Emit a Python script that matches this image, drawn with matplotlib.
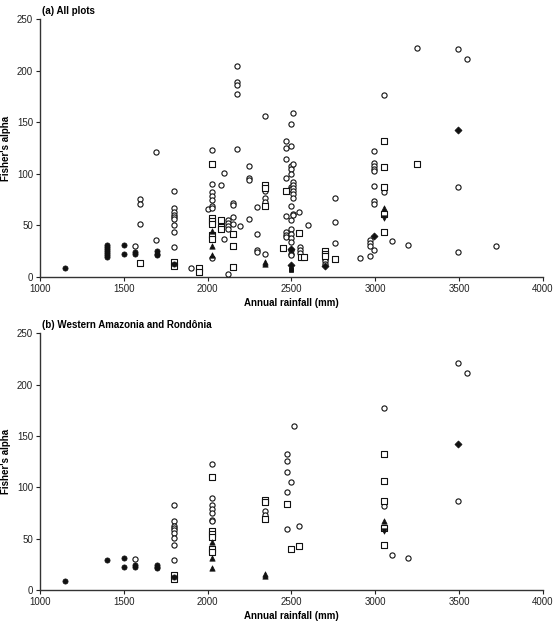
import matplotlib
matplotlib.use("Agg")
import matplotlib.pyplot as plt

plt.rcParams['font.family'] = ['Liberation Sans', 'DejaVu Sans']

# ---------------- Panel (a): all plots ----------------
a_open_circle_x = [1570, 1600, 1600, 1600, 1690, 1690,
                   1800, 1800, 1800, 1800, 1800, 1800, 1800, 1800, 1800,
                   1900, 2000,
                   2025, 2025, 2025, 2025, 2025, 2025, 2025, 2025,
                   2080, 2100, 2100, 2120, 2120, 2120, 2120, 2120,
                   2150, 2150, 2150, 2150,
                   2175, 2175, 2175, 2175, 2175, 2195,
                   2245, 2245, 2245, 2245,
                   2295, 2295, 2295, 2295,
                   2345, 2345, 2345, 2345, 2345,
                   2470, 2470, 2470, 2470, 2470, 2470, 2470, 2470,
                   2495, 2495, 2495, 2495, 2495, 2495, 2495, 2495,
                   2495, 2495, 2495, 2495, 2495, 2495, 2495, 2495,
                   2512, 2512, 2512, 2512, 2512, 2512, 2512, 2512, 2512, 2512,
                   2544, 2554, 2554, 2554, 2598,
                   2698, 2698, 2698, 2758, 2758, 2758, 2908,
                   2968, 2968, 2968, 2968,
                   2994, 2994, 2994, 2994, 2994, 2994, 2994, 2994, 2994,
                   3052, 3052, 3100, 3198, 3248, 3494, 3494, 3494, 3548, 3718]
a_open_circle_y = [30, 76, 71, 51.5, 121, 35.5,
                   83, 67, 63, 60.5, 58, 56, 50.5, 44, 29,
                   8.7, 66,
                   123, 90, 82.5, 79, 75, 68.5, 67, 18,
                   89, 100.7, 37, 55, 52.8, 49, 46.6, 3,
                   72, 70, 58, 51,
                   205, 189, 186, 177.5, 124, 49,
                   108, 96, 94.5, 56,
                   67.7, 41.5, 26, 24.6,
                   155.8, 83.5, 76.7, 73, 22,
                   131.8, 125, 114.6, 95.8, 59, 43.7, 41, 39,
                   148, 127, 108, 105, 100, 87, 85, 68.6,
                   55, 47, 42, 38, 34, 26, 22.7, 21,
                   159, 110, 92, 89, 86, 83, 80, 77, 61.5, 60,
                   62.8, 29, 26, 23, 50,
                   17.8, 15.5, 13, 77, 53.4, 33.4, 18,
                   36, 33, 29.8, 20.7,
                   122.4, 110.7, 107.5, 104.6, 102.6, 88, 74, 71, 26,
                   176.8, 82, 35, 31.4, 222, 221, 87.4, 24, 211, 30]

a_open_square_x = [1600, 1800, 1800, 1950, 1950,
                   2025, 2025, 2025, 2025, 2025, 2025,
                   2080, 2080, 2080, 2150, 2150, 2150,
                   2345, 2345, 2345, 2452, 2470, 2544, 2560, 2574,
                   2698, 2698, 2698, 2758,
                   3052, 3052, 3052, 3052, 3052, 3248]
a_open_square_y = [14, 15, 11, 9, 5,
                   110, 57, 54.7, 51.8, 40.5, 37,
                   55.7, 48, 46.6, 41.4, 29.8, 9.7,
                   89, 86, 69, 28.5, 83, 43, 19.4, 19,
                   25, 22.7, 20, 17,
                   132, 107, 86.8, 61, 43.4, 109.8]

a_filled_circle_x = [1150, 1400, 1400, 1400, 1400, 1400, 1400, 1400,
                     1500, 1500, 1570, 1570, 1700, 1700, 1700, 1800]
a_filled_circle_y = [9, 31, 29, 27, 25, 23, 21, 19.5,
                     31, 22, 24, 22, 25, 22, 21, 13]

a_filled_triangle_x = [2025, 2025, 2025, 2345, 2345, 3052]
a_filled_triangle_y = [45, 29.8, 21, 14.6, 13, 67]

a_filled_diamond_x = [2495, 2495, 2698, 2994, 3494]
a_filled_diamond_y = [27.5, 12, 10.7, 39.5, 142.5]

a_filled_square_x = [2495, 2495]
a_filled_square_y = [8, 6.5]

a_filled_invtri_x = [3052]
a_filled_invtri_y = [57]

# ---------------- Panel (b): Western Amazonia and Rondonia ----------------
b_filled_circle_x = [1150, 1400, 1500, 1500, 1570, 1570, 1700, 1700, 1700, 1800]
b_filled_circle_y = [9, 29.5, 31, 22, 24.5, 22.7, 24.5, 22.5, 21, 13]

b_open_circle_x = [1570,
                   1800, 1800, 1800, 1800, 1800, 1800, 1800, 1800, 1800,
                   2025, 2025, 2025, 2025, 2025, 2025, 2025,
                   2340, 2340,
                   2472, 2472, 2472, 2472, 2472, 2496, 2514, 2548,
                   3053, 3053, 3097, 3198, 3491, 3491, 3547]
b_open_circle_y = [30,
                   83, 67.5, 62, 60, 58, 56, 50.6, 44, 29,
                   123, 90, 82.5, 79, 75, 68.5, 67,
                   77, 73,
                   132, 125.6, 114.6, 95.8, 59.4, 105, 159.4, 62.7,
                   177, 82, 34, 31, 221.4, 87, 211]

b_open_square_x = [1800, 1800,
                   2025, 2025, 2025, 2025, 2025, 2025,
                   2340, 2340, 2340, 2472, 2496, 2548,
                   3053, 3053, 3053, 3053, 3053]
b_open_square_y = [15, 11,
                   110, 57, 55, 52, 40, 37,
                   88, 85.7, 69, 83.4, 40, 42.9,
                   132, 106.5, 87, 60.7, 43.5]

b_filled_triangle_x = [2025, 2025, 2025, 2340, 2340, 3053]
b_filled_triangle_y = [47, 30.8, 21, 15.5, 13.5, 67]

b_filled_diamond_x = [3491]
b_filled_diamond_y = [142]

b_filled_invtri_x = [3053]
b_filled_invtri_y = [57.5]

x_ticks = [1000, 1500, 2000, 2500, 3000, 3500, 4000]
y_ticks = [0, 50, 100, 150, 200, 250]

fig = plt.figure(figsize=(5.54, 6.26), dpi=100)
ax_a = fig.add_axes([0.072, 0.5575, 0.908, 0.412])
ax_b = fig.add_axes([0.072, 0.0575, 0.908, 0.410])

def style(ax, title):
    ax.set_xlim(1000, 4000)
    ax.set_ylim(0, 250)
    ax.set_xticks(x_ticks)
    ax.set_yticks(y_ticks)
    for s in ['top', 'right']:
        ax.spines[s].set_visible(False)
    for s in ['left', 'bottom']:
        ax.spines[s].set_linewidth(1.0)
        ax.spines[s].set_color('#333333')
    ax.tick_params(axis='both', labelsize=7, length=3, width=0.8,
                   direction='out', colors='#222222', pad=2)
    ax.set_xlabel('Annual rainfall (mm)', fontsize=7, fontweight='bold', labelpad=3)
    ax.set_ylabel("Fisher's alpha", fontsize=7, fontweight='bold', labelpad=4)
    ax.text(0.005, 1.012, title, transform=ax.transAxes, fontsize=7,
            fontweight='bold', ha='left', va='bottom')

def draw(ax, oc, os_, fc, ft, fd, fs, fi):
    kw_open = dict(facecolors='white', edgecolors='#111111', linewidths=0.8, zorder=3)
    kw_fill = dict(c='#111111', edgecolors='#111111', linewidths=0.5, zorder=4)
    ax.scatter(oc[0], oc[1], s=14, marker='o', **kw_open)
    ax.scatter(os_[0], os_[1], s=14, marker='s', **kw_open)
    if fc:
        ax.scatter(fc[0], fc[1], s=14, marker='o', **kw_fill)
    if ft:
        ax.scatter(ft[0], ft[1], s=15, marker='^', **kw_fill)
    if fd:
        ax.scatter(fd[0], fd[1], s=13, marker='D', **kw_fill)
    if fs:
        ax.scatter(fs[0], fs[1], s=11, marker='s', **kw_fill)
    if fi:
        ax.scatter(fi[0], fi[1], s=15, marker='v', **kw_fill)

draw(ax_a, (a_open_circle_x, a_open_circle_y), (a_open_square_x, a_open_square_y),
     (a_filled_circle_x, a_filled_circle_y), (a_filled_triangle_x, a_filled_triangle_y),
     (a_filled_diamond_x, a_filled_diamond_y), (a_filled_square_x, a_filled_square_y),
     (a_filled_invtri_x, a_filled_invtri_y))
draw(ax_b, (b_open_circle_x, b_open_circle_y), (b_open_square_x, b_open_square_y),
     (b_filled_circle_x, b_filled_circle_y), (b_filled_triangle_x, b_filled_triangle_y),
     (b_filled_diamond_x, b_filled_diamond_y), None,
     (b_filled_invtri_x, b_filled_invtri_y))

style(ax_a, '(a) All plots')
style(ax_b, '(b) Western Amazonia and Rondônia')

fig.savefig('out.png', dpi=100)
